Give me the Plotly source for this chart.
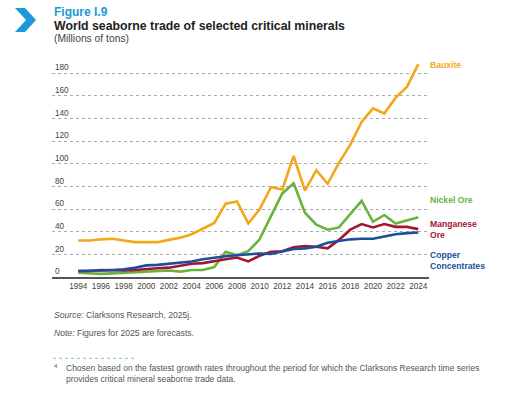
import plotly.graph_objects as go

years = list(range(1994, 2025))
bauxite = [32.5, 32.5, 33.5, 34, 32.5, 31, 31, 31, 33, 35, 38, 43, 48, 65, 67, 47.5, 60, 79.5, 77.5, 107, 76.5, 94.5, 82.5, 101, 117, 137, 149, 144.5, 158.5, 168, 188]
nickel = [4, 3.5, 3, 3.5, 4, 4.5, 5, 5.5, 6, 5, 6.5, 6.5, 9, 22.5, 19.5, 23, 33.5, 54, 74, 83, 57, 46.5, 42, 44, 56, 67.5, 49, 55, 47.5, 50.5, 53]
manganese = [5.5, 5.5, 6.5, 6, 6, 6.5, 7.5, 8, 8.5, 10, 12, 12.5, 14.5, 16, 17.5, 14, 19, 22.5, 23, 26.5, 27.5, 27, 25.5, 33, 42, 47, 44, 47, 44.5, 44.5, 42.5]
copper = [5.5, 5.5, 6, 6.5, 7, 8.5, 10.5, 11, 12, 12.5, 14, 16, 17.5, 18.5, 19.5, 20.5, 21, 20.5, 22.5, 25, 25.5, 27, 30.5, 32, 33.5, 34, 34, 36, 38, 39, 39.5]
series_names = ["Bauxite", "Nickel Ore", "Manganese<br>Ore", "Copper<br>Concentrates"]
series_colors = ["#F2A71B", "#6AB23E", "#A3162F", "#1B4F9C"]
tick_years = list(range(1994, 2025, 2))
y_ticks = list(range(0, 181, 20))

W, H = 512, 398
def px(x): return x / W
def py(y): return 1 - y / H

fig = go.Figure()
for name, vals, col in zip(series_names, [bauxite, nickel, manganese, copper], series_colors):
    fig.add_trace(go.Scatter(x=years, y=vals, mode="lines", name=name,
                             line=dict(color=col, width=2.6), showlegend=False))

# series labels at right
label_y = [65, 200, 229, 260]
for name, col, yy in zip(series_names, series_colors, label_y):
    fig.add_annotation(x=px(428), y=py(yy), xref="paper", yref="paper", text="<b>" + name + "</b>",
                       showarrow=False, xanchor="left", yanchor="middle", align="left",
                       font=dict(family="Arial Narrow, Liberation Sans Narrow, Liberation Sans, sans-serif", size=8.6, color=col))

# header
hfont = "Liberation Sans, Arial, sans-serif"
fig.add_annotation(x=px(52), y=py(12.5), xref="paper", yref="paper", text="<b>Figure I.9</b>", showarrow=False,
                   xanchor="left", yanchor="middle", font=dict(family=hfont, size=12, color="#1A9AD7"))
fig.add_annotation(x=px(52), y=py(26), xref="paper", yref="paper", text="<b>World seaborne trade of selected critical minerals</b>",
                   showarrow=False, xanchor="left", yanchor="middle", font=dict(family=hfont, size=12.3, color="#222222"))
fig.add_annotation(x=px(52), y=py(38.5), xref="paper", yref="paper", text="(Millions of tons)",
                   showarrow=False, xanchor="left", yanchor="middle", font=dict(family=hfont, size=10.3, color="#444444"))

# chevron icon
fig.add_shape(type="path", xref="paper", yref="paper",
              path="M {} {} L {} {} L {} {} L {} {} L {} {} L {} {} Z".format(
                  px(15), py(8), px(25), py(8), px(36), py(20), px(25), py(32), px(15), py(32), px(26), py(20)),
              fillcolor="#1A9AD7", line=dict(width=0))

# footer
foot_font = dict(family=hfont, size=8.6, color="#555555")
fig.add_annotation(x=px(52), y=py(315), xref="paper", yref="paper", text="<i>Source:</i> Clarksons Research, 2025j.",
                   showarrow=False, xanchor="left", yanchor="middle", font=foot_font)
fig.add_annotation(x=px(52), y=py(332.5), xref="paper", yref="paper", text="<i>Note:</i> Figures for 2025 are forecasts.",
                   showarrow=False, xanchor="left", yanchor="middle", font=foot_font)
fig.add_shape(type="line", xref="paper", yref="paper", x0=px(53), x1=px(135), y0=py(358.3), y1=py(358.3),
              line=dict(color="#7FC4EA", width=1, dash="dot"))
small_font = dict(family=hfont, size=8.5, color="#555555")
fig.add_annotation(x=px(52), y=py(365.5), xref="paper", yref="paper", text="4", showarrow=False,
                   xanchor="left", yanchor="middle", font=dict(family=hfont, size=6, color="#555555"))
fig.add_annotation(x=px(64), y=py(367.5), xref="paper", yref="paper",
                   text="Chosen based on the fastest growth rates throughout the period for which the Clarksons Research time series",
                   showarrow=False, xanchor="left", yanchor="middle", font=small_font)
fig.add_annotation(x=px(64), y=py(378.5), xref="paper", yref="paper",
                   text="provides critical mineral seaborne trade data.",
                   showarrow=False, xanchor="left", yanchor="middle", font=small_font)

plot_left, plot_right = 52, 429
plot_top, plot_bottom = 62, 277.3
yr_px = 340 / 30.0
x0 = 1994 - (78.3 - plot_left) / yr_px
x1 = 2024 + (plot_right - 418.3) / yr_px
ymax = (plot_bottom - plot_top) / (22.67 / 20)

fig.update_layout(
    width=W, height=H, margin=dict(l=0, r=0, t=0, b=0),
    paper_bgcolor="white", plot_bgcolor="white",
    xaxis=dict(domain=[px(plot_left), px(plot_right)], range=[x0, x1],
               tickvals=tick_years, ticktext=[str(t) for t in tick_years],
               showgrid=False, zeroline=False, showline=True, linecolor="#555555", linewidth=1.5,
               ticks="", tickfont=dict(family=hfont, size=8.2, color="#444444")),
    yaxis=dict(domain=[py(plot_bottom), py(plot_top)], range=[0, ymax],
               tickvals=y_ticks, ticktext=[str(t) for t in y_ticks],
               ticklabelposition="inside top", showgrid=True, gridcolor="#AAAAAA", griddash="dot", gridwidth=1,
               zeroline=False, showline=False, ticks="",
               tickfont=dict(family=hfont, size=8.2, color="#444444")),
)

fig.write_html("out.html", config={"displayModeBar": False},
               post_script="document.body.style.margin='0';document.body.style.overflow='hidden';")
